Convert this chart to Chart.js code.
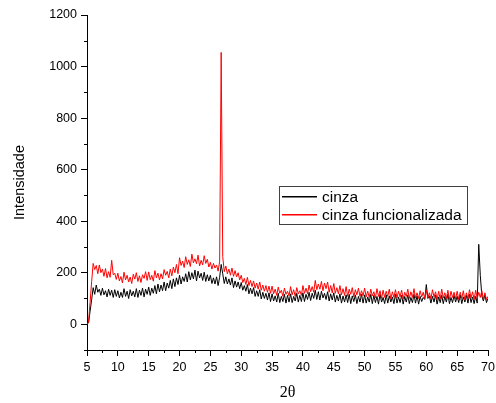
<!DOCTYPE html>
<html>
<head>
<meta charset="utf-8">
<script src="https://cdn.jsdelivr.net/npm/chart.js@4/dist/chart.umd.min.js"></script>
<style>
html,body{margin:0;padding:0;background:#fff;}
canvas{display:block;}
</style>
</head>
<body>
<canvas id="c" width="496" height="403"></canvas>
<script>
// 2θ positions (degrees)
const twoTheta = [
5,5.25,5.5,5.75,6,6.25,6.5,6.75,7,7.25,7.5,7.75,8,8.25,8.5,8.75,9,9.25,9.5,9.75,
10,10.25,10.5,10.75,11,11.25,11.5,11.75,12,12.25,12.5,12.75,13,13.25,13.5,13.75,14,14.25,14.5,14.75,
15,15.25,15.5,15.75,16,16.25,16.5,16.75,17,17.25,17.5,17.75,18,18.25,18.5,18.75,19,19.25,19.5,19.75,
20,20.25,20.5,20.75,21,21.25,21.5,21.75,22,22.25,22.5,22.75,23,23.25,23.5,23.75,24,24.25,24.5,24.75,
25,25.25,25.5,25.75,26,26.25,26.5,26.75,27,27.25,27.5,27.75,28,28.25,28.5,28.75,29,29.25,29.5,29.75,
30,30.25,30.5,30.75,31,31.25,31.5,31.75,32,32.25,32.5,32.75,33,33.25,33.5,33.75,34,34.25,34.5,34.75,
35,35.25,35.5,35.75,36,36.25,36.5,36.75,37,37.25,37.5,37.75,38,38.25,38.5,38.75,39,39.25,39.5,39.75,
40,40.25,40.5,40.75,41,41.25,41.5,41.75,42,42.25,42.5,42.75,43,43.25,43.5,43.75,44,44.25,44.5,44.75,
45,45.25,45.5,45.75,46,46.25,46.5,46.75,47,47.25,47.5,47.75,48,48.25,48.5,48.75,49,49.25,49.5,49.75,
50,50.25,50.5,50.75,51,51.25,51.5,51.75,52,52.25,52.5,52.75,53,53.25,53.5,53.75,54,54.25,54.5,54.75,
55,55.25,55.5,55.75,56,56.25,56.5,56.75,57,57.25,57.5,57.75,58,58.25,58.5,58.75,59,59.25,59.5,59.75,
60,60.25,60.5,60.75,61,61.25,61.5,61.75,62,62.25,62.5,62.75,63,63.25,63.5,63.75,64,64.25,64.5,64.75,
65,65.25,65.5,65.75,66,66.25,66.5,66.75,67,67.25,67.5,67.75,68,68.25,68.5,68.75,69,69.25,69.5,69.75,
70];

// cinza (black)
const cinza = [
0,5,50,95,142,116,152,124,136,112,140,114,130,106,136,112,132,104,134,108,
130,102,124,104,138,108,128,100,134,110,128,106,138,104,132,112,140,106,136,116,
144,112,140,120,150,118,156,126,152,130,164,130,160,140,170,138,176,146,180,154,
190,156,184,166,196,164,204,172,200,176,210,168,206,180,198,170,202,166,192,168,
190,158,180,156,184,150,182,232,196,158,184,156,176,152,180,142,168,144,164,138,
162,132,150,128,154,118,140,118,142,108,130,108,134,98,124,100,120,94,122,88,
118,90,110,86,120,84,108,88,116,82,112,86,118,84,108,90,120,86,112,88,
122,88,116,96,124,92,120,100,132,96,126,94,128,102,120,96,126,90,118,94,
122,86,112,90,118,82,110,86,114,84,116,80,110,88,114,80,108,86,116,82,
114,82,106,86,116,80,112,84,108,78,116,86,104,80,114,82,110,86,106,80,
116,82,106,84,112,78,108,86,114,80,104,84,116,82,110,78,108,88,104,96,
154,100,110,82,108,86,114,78,106,84,112,80,108,86,116,80,104,84,112,86,
108,84,114,80,106,86,112,82,116,84,106,80,108,82,310,190,110,90,114,84,
100];

// cinza funcionalizada (red)
const cinzaFuncionalizada = [
0,8,85,165,236,212,228,196,230,200,214,186,216,180,204,182,248,192,198,174,
198,168,185,160,202,172,190,164,183,158,194,175,200,166,188,162,192,178,204,170,
203,173,190,167,208,180,198,172,196,176,212,190,205,180,214,188,222,200,232,196,
258,228,245,220,262,232,250,224,272,238,254,235,268,226,248,230,266,236,252,222,
240,214,236,218,230,206,242,1055,262,204,226,196,214,190,218,186,208,184,200,172,
190,162,178,154,182,150,170,146,168,140,160,136,164,132,152,128,150,124,148,120,
148,118,136,112,144,120,132,108,140,116,128,110,146,114,134,108,142,118,130,112,
150,120,140,118,152,126,146,124,170,134,156,136,166,130,160,138,164,124,150,122,
158,120,142,118,150,114,138,112,146,108,136,116,142,106,134,114,140,108,130,110,
140,106,128,104,136,110,126,102,138,108,130,100,132,104,128,108,136,98,126,104,
134,102,128,106,132,98,124,108,136,100,126,104,138,102,122,100,130,106,124,100,
132,102,122,98,134,106,126,96,128,98,136,102,122,100,132,96,128,104,124,98,
128,96,124,100,130,94,122,98,134,102,126,96,132,100,124,104,130,98,122,96,
108];

const seriesNames = ['cinza', 'cinza funcionalizada'];
const seriesColors = ['#000000', '#ff0000'];
const yTickValues = [0, 200, 400, 600, 800, 1000, 1200];
const xTickValues = [5,10,15,20,25,30,35,40,45,50,55,60,65,70];

const FONT = "'Liberation Sans', Arial, sans-serif";

function pts(ys) { return ys.map((y, i) => ({x: twoTheta[i], y: y})); }

const minorTicks = {
  id: 'minorTicks',
  afterDraw(chart) {
    const ctx = chart.ctx;
    const xs = chart.scales.x, ys = chart.scales.y;
    ctx.save();
    ctx.strokeStyle = '#000';
    ctx.lineWidth = 1;
    ctx.beginPath();
    for (let v = 7.5; v < 70; v += 5) {
      const px = Math.round(xs.getPixelForValue(v)) + 0.5;
      ctx.moveTo(px, ys.bottom);
      ctx.lineTo(px, ys.bottom + 3);
    }
    for (let v = -100; v <= 1100; v += 200) {
      const py = Math.round(ys.getPixelForValue(v)) + 0.5;
      ctx.moveTo(xs.left, py);
      ctx.lineTo(xs.left - 3, py);
    }
    ctx.stroke();
    ctx.restore();
  }
};

const boxLegend = {
  id: 'boxLegend',
  afterDraw(chart) {
    const ctx = chart.ctx;
    const a = chart.chartArea;
    const left = a.left + 192, top = a.top + 171, w = 188, h = 38;
    ctx.save();
    ctx.fillStyle = '#fff';
    ctx.fillRect(left, top, w, h);
    ctx.strokeStyle = '#404040';
    ctx.lineWidth = 1;
    ctx.strokeRect(left + 0.5, top + 0.5, w, h);
    ctx.font = "15.5px " + FONT;
    ctx.textBaseline = 'middle';
    const rows = [top + 10, top + 28];
    for (let i = 0; i < 2; i++) {
      ctx.fillStyle = seriesColors[i];
      ctx.fillRect(left + 3, rows[i], 35, 1.5);
      ctx.fillStyle = '#000000';
      ctx.fillText(seriesNames[i], left + 43, rows[i] + 1.5);
    }
    ctx.restore();
  }
};

new Chart(document.getElementById('c'), {
  type: 'line',
  data: {
    datasets: [
      { label: seriesNames[1], data: pts(cinzaFuncionalizada), borderColor: seriesColors[1], borderWidth: 1, pointRadius: 0, tension: 0, order: 0 },
      { label: seriesNames[0], data: pts(cinza), borderColor: seriesColors[0], borderWidth: 1, pointRadius: 0, tension: 0, order: 1 }
    ]
  },
  options: {
    responsive: false,
    animation: false,
    parsing: false,
    normalized: true,
    layout: { padding: { left: 0, right: 8, top: 15, bottom: 0 } },
    plugins: { legend: { display: false }, tooltip: { enabled: false } },
    scales: {
      x: {
        type: 'linear',
        min: 5, max: 70,
        afterFit(s) { s.height = 53; s.paddingLeft = 0; s.paddingRight = 0; },
        afterBuildTicks(s) { s.ticks = xTickValues.map(v => ({value: v})); },
        border: { display: true, color: '#000', width: 1 },
        grid: { drawOnChartArea: false, drawTicks: true, tickLength: 6, tickColor: '#000' },
        ticks: { autoSkip: false, maxRotation: 0, padding: 4, color: '#000', font: { family: FONT, size: 12.5 }, callback: v => String(v) },
        title: { display: true, text: '2θ', color: '#000', font: { family: "'Liberation Serif', 'Times New Roman', serif", size: 16 }, padding: { top: 0, bottom: 1 } }
      },
      y: {
        type: 'linear',
        min: -100, max: 1200,
        afterFit(s) { s.width = 87; s.paddingTop = 0; s.paddingBottom = 0; },
        afterBuildTicks(s) { s.ticks = yTickValues.map(v => ({value: v})); },
        border: { display: true, color: '#000', width: 1 },
        grid: { drawOnChartArea: false, drawTicks: true, tickLength: 6, tickColor: '#000' },
        ticks: { autoSkip: false, padding: 4, color: '#000', font: { family: FONT, size: 12.5 }, callback: v => String(v) },
        title: { display: true, text: 'Intensidade', color: '#000', font: { family: FONT, size: 14.5 }, padding: { top: 11, bottom: 0 } }
      }
    }
  },
  plugins: [minorTicks, boxLegend]
});
</script>
</body>
</html>
